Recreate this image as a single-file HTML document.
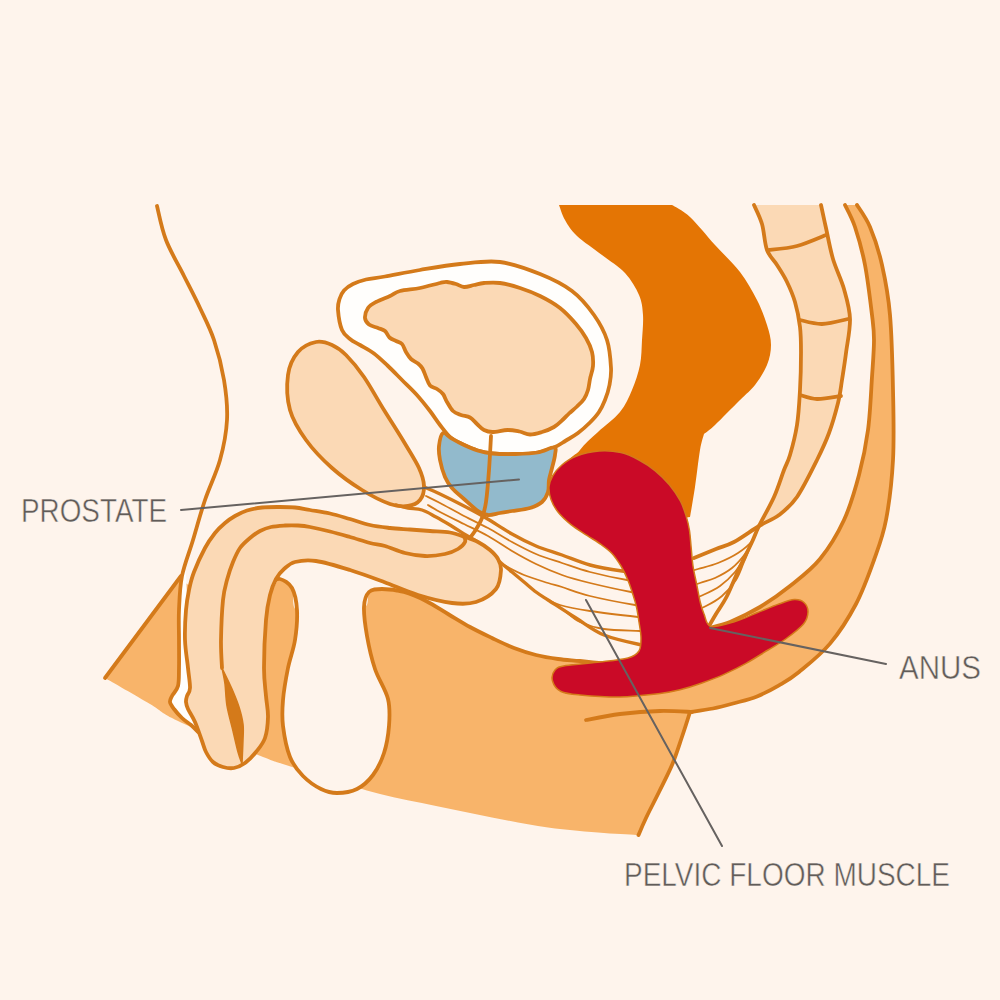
<!DOCTYPE html>
<html><head><meta charset="utf-8"><style>
html,body{margin:0;padding:0;background:#FEF4EC;}
svg{display:block;}
text{font-family:"Liberation Sans",sans-serif;fill:#615C59;stroke:#FEF4EC;stroke-width:0.5px;}
</style></head><body>
<svg width="1000" height="1000" viewBox="0 0 1000 1000">
<rect width="1000" height="1000" fill="#FEF4EC"/>
<path d="M105,678 L181,576 C182.2,577.1 183.8,584.5 192,586 C200.2,587.5 217.3,584.3 230,585 C242.7,585.7 259.7,591 268,590 C276.3,589 276,579.3 280,579 C284,578.7 289.2,582.8 292,588 C294.8,593.2 290.7,608 297,610 C303.3,612 318.8,600.5 330,600 C341.2,599.5 357.5,608.3 364,607 C370.5,605.7 366,595 369,592 C372,589 376.2,589 382,589 C387.8,589 396.7,590 404,592 C411.3,594 418.7,597.3 426,601 C433.3,604.7 440.7,609.7 448,614 C455.3,618.3 462.7,623 470,627 C477.3,631 484.7,634.5 492,638 C499.3,641.5 506.7,645.2 514,648 C521.3,650.8 528.7,653.2 536,655 C543.3,656.8 550.7,658 558,659 C565.3,660 569.7,659.5 580,661 C590.3,662.5 600,670.7 620,668 C640,665.3 680,652.7 700,645 C720,637.3 730,628.3 740,622 C750,615.7 751.7,613 760,607 C768.3,601 780,594 790,586 C800,578 811,570 820,559 C829,548 837.5,534 844,520 C850.5,506 855,490 859,475 C863,460 865.8,446.3 868,430 C870.2,413.7 871,392 872,377 C873,362 874,350.3 874,340 C874,329.7 873.5,327.5 872,315 C870.5,302.5 867.8,279.7 865,265 C862.2,250.3 858.3,237 855,227 C851.7,217 846.1,207.4 845,205 L857,205 C858.4,207.4 865.8,217 870,227 C874.2,237 878.7,250.3 882,265 C885.3,279.7 888.2,294.2 890,315 C891.8,335.8 892.5,365.8 893,390 C893.5,414.2 894.2,438.3 893,460 C891.8,481.7 889.2,503.3 886,520 C882.8,536.7 879,546 874,560 C869,574 863.3,590.1 856,604 C848.7,617.9 839.5,632.3 830,643.6 C820.5,654.9 807.5,665 799,672 C790.5,679 786,681.3 779,685.4 C772,689.5 764.3,693.5 757,696.4 C749.7,699.3 742.3,701 735,703 C727.7,705 720.5,707 713,708.5 C705.5,710 692.6,711.6 690,712 C689.1,714.9 684.6,729.2 681.6,738 C678.6,746.8 675.8,756 672,765 C668.2,774 663.3,783.2 659,792 C654.7,800.8 649.4,810.8 646,818 C642.6,825.2 639.3,833.1 638.5,835 C634.7,834.8 619.1,834.2 604,833 C588.9,831.8 566.7,830.1 548,827.5 C529.3,824.9 510.7,821.1 492,817.5 C473.3,813.9 454.7,809.9 436,806 C417.3,802.1 397.7,798.5 380,794 C362.3,789.5 345.2,783.7 330,779 C314.8,774.3 301,770 289,766 C277,762 276.5,762.5 258,755 C239.5,747.5 196,729.5 178,721 C160,712.5 162.2,711.2 150,704 C137.8,696.8 110,680.9 105,678Z" fill="#F8B46A"/>
<path d="M105,678 L181,576" fill="none" stroke="#D47A1A" stroke-width="3.8" stroke-linejoin="round" stroke-linecap="round"/>
<path d="M709,628 C711.3,627.3 721.5,625.5 730,622 C738.5,618.5 750,613 760,607 C770,601 780,594 790,586 C800,578 811,570 820,559 C829,548 837.5,534 844,520 C850.5,506 855,490 859,475 C863,460 865.8,446.3 868,430 C870.2,413.7 871,392 872,377 C873,362 874,350.3 874,340 C874,329.7 873.5,327.5 872,315 C870.5,302.5 867.8,279.7 865,265 C862.2,250.3 858.3,237 855,227 C851.7,217 846.1,207.4 845,205" fill="none" stroke="#D47A1A" stroke-width="3.8" stroke-linejoin="round" stroke-linecap="round"/>
<path d="M857,205 C858.4,207.4 865.8,217 870,227 C874.2,237 878.7,250.3 882,265 C885.3,279.7 888.2,294.2 890,315 C891.8,335.8 892.5,365.8 893,390 C893.5,414.2 894.2,438.3 893,460 C891.8,481.7 889.2,503.3 886,520 C882.8,536.7 879,546 874,560 C869,574 863.3,590.1 856,604 C848.7,617.9 839.5,632.3 830,643.6 C820.5,654.9 807.5,665 799,672 C790.5,679 786,681.3 779,685.4 C772,689.5 764.3,693.5 757,696.4 C749.7,699.3 742.3,701 735,703 C727.7,705 720.5,707 713,708.5 C705.5,710 692.6,711.6 690,712 C689.1,714.9 684.6,729.2 681.6,738 C678.6,746.8 675.8,756 672,765 C668.2,774 663.3,783.2 659,792 C654.7,800.8 649.4,810.8 646,818 C642.6,825.2 639.3,833.1 638.5,835" fill="none" stroke="#D47A1A" stroke-width="3.8" stroke-linejoin="round" stroke-linecap="round"/>
<path d="M586,720 C589.8,719.3 607.7,715.5 620,714 C632.3,712.5 648,711.3 660,711 C672,710.7 688.4,711.9 692,712" fill="none" stroke="#D47A1A" stroke-width="3.8" stroke-linejoin="round" stroke-linecap="round"/>
<path d="M754,205 C754.9,207.1 759.8,216.5 762,224 C764.2,231.5 764.5,243.2 767,250 C769.5,256.8 773.7,259.7 777,265 C780.3,270.3 784,275.8 787,282 C790,288.2 792.8,294.5 795,302 C797.2,309.5 799,318.7 800,327 C801,335.3 801,341.5 801,352 C801,362.5 800.7,377.8 800,390 C799.3,402.2 798.7,414.2 797,425 C795.3,435.8 792.2,447.5 790,455 C787.8,462.5 786.7,463 784,470 C781.3,477 778.2,487.7 774,497 C769.8,506.3 758.2,523 759,526 C759.8,529 772.7,519.8 779,515 C785.3,510.2 790.7,506.2 797,497 C803.3,487.8 811.7,470.7 817,460 C822.3,449.3 825.5,442.5 829,433 C832.5,423.5 835.8,411.8 838,403 C840.2,394.2 840.7,388.3 842,380 C843.3,371.7 844.7,363.2 846,353 C847.3,342.8 850.3,329.7 850,319 C849.7,308.3 846.8,299 844,289 C841.2,279 836,269.2 833,259 C830,248.8 828,237 826,228 C824,219 821.6,207.6 821,205 L754,205Z" fill="#FBD9B5"/>
<path d="M754,205 C754.9,207.1 759.8,216.5 762,224 C764.2,231.5 764.5,243.2 767,250 C769.5,256.8 773.7,259.7 777,265 C780.3,270.3 784,275.8 787,282 C790,288.2 792.8,294.5 795,302 C797.2,309.5 799,318.7 800,327 C801,335.3 801,341.5 801,352 C801,362.5 800.7,377.8 800,390 C799.3,402.2 798.7,414.2 797,425 C795.3,435.8 792.2,447.5 790,455 C787.8,462.5 786.7,463 784,470 C781.3,477 778.2,487.7 774,497 C769.8,506.3 762.7,518.5 759,526 C755.3,533.5 755.3,534.8 752,542 C748.7,549.2 743.2,560 739,569 C734.8,578 730.8,588.5 727,596 C723.2,603.5 719,609 716,614 C713,619 709.8,624.7 709,626" fill="none" stroke="#D47A1A" stroke-width="3.8" stroke-linejoin="round" stroke-linecap="round"/>
<path d="M821,205 C821.6,207.6 824,219 826,228 C828,237 830,248.8 833,259 C836,269.2 841.2,279 844,289 C846.8,299 849.7,308.3 850,319 C850.3,329.7 847.3,342.8 846,353 C844.7,363.2 843.3,371.7 842,380 C840.7,388.3 840.2,394.2 838,403 C835.8,411.8 832.5,423.5 829,433 C825.5,442.5 822.3,449.3 817,460 C811.7,470.7 803.3,487.8 797,497 C790.7,506.2 785.3,510.2 779,515 C772.7,519.8 766.5,521.5 759,526 C751.5,530.5 741.2,538.2 734,542 C726.8,545.8 722.7,546.3 716,549 C709.3,551.7 696.4,557 694,558" fill="none" stroke="#D47A1A" stroke-width="3.8" stroke-linejoin="round" stroke-linecap="round"/>
<path d="M769,250 C772.1,249.6 787.5,248.5 797,246 C806.5,243.5 822.8,236.2 826,235" fill="none" stroke="#D47A1A" stroke-width="3.8" stroke-linejoin="round" stroke-linecap="round"/>
<path d="M800,320 C802.4,320.4 814,324.2 822,324 C830,323.8 845.1,319.6 848,319" fill="none" stroke="#D47A1A" stroke-width="3.8" stroke-linejoin="round" stroke-linecap="round"/>
<path d="M800,395 C801.9,395.4 810.2,398.8 817,399 C823.8,399.2 838.3,396.3 841,396" fill="none" stroke="#D47A1A" stroke-width="3.8" stroke-linejoin="round" stroke-linecap="round"/>
<path d="M559,205 C559.7,206.7 562,214.8 565,220 C568,225.2 570.8,230.2 577,236 C583.2,241.8 594,248.8 602,255 C610,261.2 618.8,266.3 625,273 C631.2,279.7 636,288 639,295 C642,302 642.5,307.5 643,315 C643.5,322.5 642.5,331.7 642,340 C641.5,348.3 641.7,356.7 640,365 C638.3,373.3 635.3,382.2 632,390 C628.7,397.8 625.7,405 620,412 C614.3,419 604.7,425.7 598,432 C591.3,438.3 584.3,443.7 580,450 C575.7,456.3 562,458.3 572,470 C582,481.7 620.3,512.2 640,520 C659.7,527.8 684.4,517.3 690,517 C690.6,513.7 693.3,498.2 695,487 C696.7,475.8 698.5,458.8 700,450 C701.5,441.2 703.6,435.8 704,434 C705.2,433 709,430.7 715,425 C721,419.3 733.3,406.7 740,400 C746.7,393.3 750.5,390.8 755,385 C759.5,379.2 764.3,371.7 767,365 C769.7,358.3 771,351.7 771,345 C771,338.3 769.3,332.5 767,325 C764.7,317.5 761.5,308.8 757,300 C752.5,291.2 747,281.2 740,272 C733,262.8 723.3,254.2 715,245 C706.7,235.8 697.2,223.7 690,217 C682.8,210.3 674,206.3 672,205 L559,205Z" fill="#E47504"/>
<path d="M338,310 C338.4,315.2 340,325.2 342,330 C344,334.8 347,336.5 350,339 C353,341.5 356,342.6 360,345 C364,347.4 369.3,349.9 374,353.4 C378.7,356.9 383.3,361.6 388,366 C392.7,370.4 397.3,375.3 402,380 C406.7,384.7 411.3,388.8 416,394 C420.7,399.2 426,405.8 430,411 C434,416.2 436.5,420.5 440,425 C443.5,429.5 447.3,434.8 451,438 C454.7,441.2 457.6,441.9 462,444 C466.4,446.1 472.4,448.9 477.5,450.5 C482.6,452.1 486.2,452.9 492.5,453.5 C498.8,454.1 507.5,454.2 515,454 C522.5,453.8 531,453.6 537.5,452.5 C544,451.4 549.2,449.5 554,447.5 C558.8,445.5 562,442.9 566,440.5 C570,438.1 574,436 578,433 C582,430 586.5,426 590,422.5 C593.5,419 596.5,415.8 599,412 C601.5,408.2 603.2,404.5 605,400 C606.8,395.5 608.5,390.3 609.5,385 C610.5,379.7 611.4,375.5 611,368 C610.6,360.5 609.8,348.8 607,340 C604.2,331.2 599.8,323.2 594,315 C588.2,306.8 581,297.8 572,291 C563,284.2 552,278.8 540,274 C528,269.2 513.3,263.7 500,262 C486.7,260.3 473.3,262.7 460,264 C446.7,265.3 432.5,267.9 420,270 C407.5,272.1 394,274.9 385,276.5 C376,278.1 371.3,278.2 366,279.5 C360.7,280.8 356.7,282.2 353,284 C349.3,285.8 346.2,288 344,290.5 C341.8,293 340.5,295.8 339.5,299 C338.5,302.2 337.6,304.8 338,310Z" fill="#FFFEFC" stroke="#D47A1A" stroke-width="3.8" stroke-linejoin="round" stroke-linecap="round"/>
<path d="M365,318 C364.8,315.2 366.2,310.7 368,308 C369.8,305.3 372.3,304 376,302 C379.7,300 386,297.8 390,296 C394,294.2 395,292.3 400,291 C405,289.7 413.3,289.3 420,288 C426.7,286.7 435.5,284 440,283 C444.5,282 444.3,281.8 447,282 C449.7,282.2 453.2,283.2 456,284 C458.8,284.8 461,286.8 464,287 C467,287.2 470.7,285.7 474,285 C477.3,284.3 479.7,283.3 484,283 C488.3,282.7 494,282.2 500,283 C506,283.8 513.3,285.8 520,288 C526.7,290.2 533.3,292.7 540,296 C546.7,299.3 554,303.3 560,308 C566,312.7 571.7,319 576,324 C580.3,329 583.3,333.3 586,338 C588.7,342.7 590.8,347.3 592,352 C593.2,356.7 593.3,361.5 593,366 C592.7,370.5 590.8,375 590,379 C589.2,383 589,386.7 588,390 C587,393.3 585.8,396.2 584,399 C582.2,401.8 579.5,404.1 577,406.5 C574.5,408.9 571.3,411.3 569,413.5 C566.7,415.7 565.5,417.2 563,419.5 C560.5,421.8 557.5,424.9 554,427 C550.5,429.1 546,430.8 542,432 C538,433.2 533.8,434.6 530,434.5 C526.2,434.4 523.2,432.2 519.5,431.5 C515.8,430.8 512,429.9 507.5,430 C503,430.1 496.4,432 492.5,432 C488.6,432 486.6,431.3 484,430 C481.4,428.7 479.3,426.1 477,424 C474.7,421.9 472.7,419 470,417.5 C467.3,416 463.8,416.1 461,415 C458.2,413.9 455.3,413.2 453,411 C450.7,408.8 448.7,404.8 447,402 C445.3,399.2 444.7,396.2 443,394 C441.3,391.8 439.2,390.4 437,389 C434.8,387.6 431.8,387.5 430,385.5 C428.2,383.5 427.2,379.8 426,377 C424.8,374.2 423.8,370.8 422.5,368.5 C421.2,366.2 419.9,365.1 418,363.5 C416.1,361.9 413,360.9 411,359 C409,357.1 407.5,354.5 406,352 C404.5,349.5 403.7,345.8 402,344 C400.3,342.2 398.1,342.1 396,341 C393.9,339.9 391.3,339.2 389.5,337.5 C387.7,335.8 386.9,332.6 385,331 C383.1,329.4 380.7,329.1 378,328 C375.3,326.9 371.2,326.2 369,324.5 C366.8,322.8 365.2,320.8 365,318Z" fill="#FBD9B5" stroke="#D47A1A" stroke-width="3.8" stroke-linejoin="round" stroke-linecap="round"/>
<path d="M316,342 C310.3,343.2 302.7,346.5 298,352 C293.3,357.5 289.3,365.3 288,375 C286.7,384.7 287,399.2 290,410 C293,420.8 299,430.3 306,440 C313,449.7 322.7,459.7 332,468 C341.3,476.3 352.3,484 362,490 C371.7,496 382.3,501.3 390,504 C397.7,506.7 403,506.7 408,506 C413,505.3 417.3,503.3 420,500 C422.7,496.7 424.2,491.3 424,486 C423.8,480.7 422.3,475.3 419,468 C415.7,460.7 409.8,451.7 404,442 C398.2,432.3 390.7,420.8 384,410 C377.3,399.2 370.3,386.2 364,377 C357.7,367.8 351.3,360.3 346,355 C340.7,349.7 337,347.2 332,345 C327,342.8 321.7,340.8 316,342Z" fill="#FBD9B5" stroke="#D47A1A" stroke-width="3.8" stroke-linejoin="round" stroke-linecap="round"/>
<path d="M443,433 C441,434.3 439.5,441.5 439,446 C438.5,450.5 439,454.8 440,460 C441,465.2 443,472.3 445,477 C447,481.7 448.8,484.3 452,488 C455.2,491.7 459.7,495.2 464,499 C468.3,502.8 474,508.3 478,511 C482,513.7 484.3,514.7 488,515 C491.7,515.3 496,513.7 500,513 C504,512.3 507,511.8 512,511 C517,510.2 525,509.5 530,508 C535,506.5 539,504.7 542,502 C545,499.3 546.8,495.7 548,492 C549.2,488.3 548.3,484 549,480 C549.7,476 551,472.2 552,468 C553,463.8 554.7,458.4 555,455 C555.3,451.6 556.9,447.9 554,447.5 C551.1,447.1 544,451.4 537.5,452.5 C531,453.6 522.5,453.8 515,454 C507.5,454.2 498.8,454.1 492.5,453.5 C486.2,452.9 482.6,452.1 477.5,450.5 C472.4,448.9 466.4,446.1 462,444 C457.6,441.9 454.2,439.8 451,438 C447.8,436.2 445,431.7 443,433Z" fill="#92BACC" stroke="#D47A1A" stroke-width="3.8" stroke-linejoin="round" stroke-linecap="round"/>
<path d="M491,436 C490.8,439.8 489.8,459 489,470 C488.2,481 487.2,494 486,502 C484.8,510 483.8,513.2 482,518 C480.2,522.8 477.2,527.5 475,531 C472.8,534.5 469.7,538.1 469,539" fill="none" stroke="#D47A1A" stroke-width="3.8" stroke-linejoin="round" stroke-linecap="round"/>
<path d="M297,610 C296.5,618.3 296.5,630.3 295,640 C293.5,649.7 290,658 288,668 C286,678 283.8,690.3 283,700 C282.2,709.7 281.8,716.5 283,726 C284.2,735.5 286.7,748.7 290,757 C293.3,765.3 297.8,770.7 303,776 C308.2,781.3 315.3,786.2 321,789 C326.7,791.8 331,793 337,793 C343,793 351,792 357,789 C363,786 368.5,781 373,775 C377.5,769 381.3,761.2 384,753 C386.7,744.8 388.3,735 389,726 C389.7,717 390.3,708.5 388,699 C385.7,689.5 378.5,679.5 375,669 C371.5,658.5 368.8,646.3 367,636 C365.2,625.7 363.7,614.3 364,607 C364.3,599.7 366,595 369,592 C372,589 376.2,589 382,589 C387.8,589 404.3,595.2 404,592 C403.7,588.8 392.3,574.5 380,570 C367.7,565.5 343.7,561.7 330,565 C316.3,568.3 303.5,582.5 298,590 C292.5,597.5 297.5,601.7 297,610Z" fill="#FEF4EC"/>
<path d="M424,487 C425.8,487.8 433.3,490.8 440,494 C446.7,497.2 456.3,502 464,506 C471.7,510 478,513.3 486,518 C494,522.7 503.7,529.3 512,534 C520.3,538.7 527.7,542.5 536,546 C544.3,549.5 553,551.8 562,555 C571,558.2 580,562.3 590,565 C600,567.7 610.3,569.3 622,571 C633.7,572.7 655.8,574.6 660,575" fill="none" stroke="#D47A1A" stroke-width="3.4" stroke-linejoin="round" stroke-linecap="round"/>
<path d="M426,496 C427.6,496.8 433.7,499.7 440,503 C446.3,506.3 456,511.8 464,516 C472,520.2 480,523.7 488,528 C496,532.3 504,537.7 512,542 C520,546.3 527.7,550.5 536,554 C544.3,557.5 553,560 562,563 C571,566 579.2,569.2 590,572 C600.8,574.8 615.3,578 627,580 C638.7,582 656.3,583.6 660,584" fill="none" stroke="#D47A1A" stroke-width="1.8" stroke-linejoin="round" stroke-linecap="round"/>
<path d="M428,505 C429.3,505.8 434,508.8 440,512 C446,515.2 456,520 464,524 C472,528 480,531.5 488,536 C496,540.5 504,546.3 512,551 C520,555.7 527.7,560 536,564 C544.3,568 553,571.8 562,575 C571,578.2 578.5,580.2 590,583 C601.5,585.8 619.3,589.8 631,592 C642.7,594.2 656.8,595.6 660,596" fill="none" stroke="#D47A1A" stroke-width="1.8" stroke-linejoin="round" stroke-linecap="round"/>
<path d="M496,560 C496.7,560.4 497.3,561.5 502,564 C506.7,566.5 516.3,571.8 524,575 C531.7,578.2 541.7,581 548,583 C554.3,585 555,584.8 562,587 C569,589.2 577.8,593 590,596 C602.2,599 623.3,603 635,605 C646.7,607 657.2,607.7 660,608" fill="none" stroke="#D47A1A" stroke-width="1.8" stroke-linejoin="round" stroke-linecap="round"/>
<path d="M545,598 C546.7,598.8 552.5,602.8 560,605 C567.5,607.2 577,609 590,611 C603,613 626.3,615.7 638,617 C649.7,618.3 657.6,618.8 660,619" fill="none" stroke="#D47A1A" stroke-width="1.8" stroke-linejoin="round" stroke-linecap="round"/>
<path d="M566,612 C567.6,613.1 573.7,619.2 580,622 C586.3,624.8 594,627.5 604,629 C614,630.5 630.7,630.5 640,631 C649.3,631.5 657.8,631.9 660,632" fill="none" stroke="#D47A1A" stroke-width="1.8" stroke-linejoin="round" stroke-linecap="round"/>
<path d="M396,505 C397.3,505.3 403.7,507.2 408,508 C412.3,508.8 417.3,508.5 422,510 C426.7,511.5 431.3,514.5 436,517 C440.7,519.5 445.3,522.2 450,525 C454.7,527.8 459.7,531.3 464,534 C468.3,536.7 472,538.2 476,541 C480,543.8 484,547.5 488,551 C492,554.5 496,558.5 500,562 C504,565.5 508,568.7 512,572 C516,575.3 520,578.7 524,582 C528,585.3 532,589 536,592 C540,595 541.3,595.7 548,600 C554.7,604.3 566.7,612.2 576,618 C585.3,623.8 593,630.5 604,635 C615,639.5 631.8,642.8 642,645 C652.2,647.2 662.4,647.7 665,648" fill="none" stroke="#D47A1A" stroke-width="3.4" stroke-linejoin="round" stroke-linecap="round"/>
<path d="M759,526 C758.2,527.7 755.5,536.5 752,541 C748.5,545.5 743.7,549.3 738,553 C732.3,556.7 724.7,560.3 718,563 C711.3,565.7 704.3,567.2 698,569 C691.7,570.8 682,573.4 680,574" fill="none" stroke="#D47A1A" stroke-width="1.8" stroke-linejoin="round" stroke-linecap="round"/>
<path d="M759,526 C758.3,527.6 755.3,535.3 753,540 C750.7,544.7 748.5,549.3 745,554 C741.5,558.7 737,564 732,568 C727,572 720.3,575.5 715,578 C709.7,580.5 705.8,581 700,583 C694.2,585 682.2,589.2 680,590" fill="none" stroke="#D47A1A" stroke-width="1.8" stroke-linejoin="round" stroke-linecap="round"/>
<path d="M759,526 C758.2,527.8 754.5,536.7 752,542 C749.5,547.3 746.8,553 744,558 C741.2,563 739,567.3 735,572 C731,576.7 725.3,582.2 720,586 C714.7,589.8 709.7,592 703,595 C696.3,598 682.6,603 680,604" fill="none" stroke="#D47A1A" stroke-width="1.8" stroke-linejoin="round" stroke-linecap="round"/>
<path d="M759,526 C758.2,527.8 754.5,536 752,542 C749.5,548 746.7,555.7 744,562 C741.3,568.3 739.7,574.3 736,580 C732.3,585.7 727,591.7 722,596 C717,600.3 713,602.5 706,606 C699,609.5 682.9,615.8 680,617" fill="none" stroke="#D47A1A" stroke-width="1.8" stroke-linejoin="round" stroke-linecap="round"/>
<path d="M268,596 C268.4,594.7 270,586.8 272,584 C274,581.2 276.7,578.3 280,579 C283.3,579.7 289.2,582.8 292,588 C294.8,593.2 296.5,601.3 297,610 C297.5,618.7 296.5,630.3 295,640 C293.5,649.7 290,658 288,668 C286,678 283.8,690.3 283,700 C282.2,709.7 281.8,716.5 283,726 C284.2,735.5 286.7,748.7 290,757 C293.3,765.3 297.8,770.7 303,776 C308.2,781.3 315.3,786.2 321,789 C326.7,791.8 331,793 337,793 C343,793 351,792 357,789 C363,786 368.5,781 373,775 C377.5,769 381.3,761.2 384,753 C386.7,744.8 388.3,735 389,726 C389.7,717 390.3,708.5 388,699 C385.7,689.5 378.5,679.5 375,669 C371.5,658.5 368.8,646.3 367,636 C365.2,625.7 363.7,614.3 364,607 C364.3,599.7 366,595 369,592 C372,589 376.2,589 382,589 C387.8,589 396.7,590 404,592 C411.3,594 418.7,597.3 426,601 C433.3,604.7 440.7,609.7 448,614 C455.3,618.3 462.7,623 470,627 C477.3,631 484.7,634.5 492,638 C499.3,641.5 506.7,645.2 514,648 C521.3,650.8 528.7,653.2 536,655 C543.3,656.8 550.7,658 558,659 C565.3,660 571.3,660.2 580,661 C588.7,661.8 606.7,663.7 610,664" fill="none" stroke="#D47A1A" stroke-width="3.8" stroke-linejoin="round" stroke-linecap="round"/>
<path d="M186,575 C184.8,560.3 183,573.8 182,580 C181,586.2 180.5,602 180,612 C179.5,622 179.2,630.7 179,640 C178.8,649.3 179.2,660.3 179,668 C178.8,675.7 179.2,681.3 178,686 C176.8,690.7 173.3,693.3 172,696 C170.7,698.7 169.7,699.8 170,702 C170.3,704.2 172,706.3 174,709 C176,711.7 179.2,715.3 182,718 C184.8,720.7 188.7,722.8 191,725 C193.3,727.2 194.5,728.8 196,731 C197.5,733.2 199.7,738.7 200,738 C200.3,737.3 199.2,730.7 198,727 C196.8,723.3 194.7,719 193,716 C191.3,713 189.2,711.3 188,709 C186.8,706.7 185.7,705.5 186,702 C186.3,698.5 189.5,693.7 190,688 C190.5,682.3 189.7,686.8 189,668 C188.3,649.2 187.2,589.7 186,575Z" fill="#FFFEFC"/>
<path d="M202,741 C200.2,736 197.3,727.3 195,722 C192.7,716.7 189.5,712.3 188,709 C186.5,705.7 186.2,704.2 186,702 C185.8,699.8 186.3,698.3 187,696 C187.7,693.7 189.8,692.7 190,688 C190.2,683.3 188.8,676 188,668 C187.2,660 185.3,649.7 185,640 C184.7,630.3 185.3,618.3 186,610 C186.7,601.7 187.7,596.3 189,590 C190.3,583.7 191.3,579 194,572 C196.7,565 201.5,554.5 205,548 C208.5,541.5 211.7,537.2 215,533 C218.3,528.8 221.7,525.8 225,523 C228.3,520.2 231.3,518.1 235,516 C238.7,513.9 242.5,511.9 247,510.5 C251.5,509.1 256.5,508.1 262,507.5 C267.5,506.9 274.5,507 280,507 C285.5,507 290,507 295,507.5 C300,508 304.2,509 310,510 C315.8,511 323.3,512 330,513.5 C336.7,515 343.3,517.1 350,519 C356.7,520.9 363.3,523.5 370,525 C376.7,526.5 383.3,527.2 390,528 C396.7,528.8 403.3,529 410,529.5 C416.7,530 423.3,530.5 430,531 C436.7,531.5 444.2,531.5 450,532.5 C455.8,533.5 460.3,535.4 465,537 C469.7,538.6 473.8,539.8 478,542 C482.2,544.2 486.7,547.2 490,550 C493.3,552.8 496.2,555.7 498,559 C499.8,562.3 501.3,565 501,570 C500.7,575 500.2,583.7 496,589 C491.8,594.3 483.3,599.7 476,602 C468.7,604.3 461.7,604.2 452,603 C442.3,601.8 429.3,598.5 418,595 C406.7,591.5 395.3,586.2 384,582 C372.7,577.8 361.3,573.5 350,570 C338.7,566.5 325.2,562.3 316,561 C306.8,559.7 300.3,560.7 295,562 C289.7,563.3 287.2,566.2 284,569 C280.8,571.8 278.3,574.7 276,579 C273.7,583.3 271.7,588.2 270,595 C268.3,601.8 267,607.8 266,620 C265,632.2 264,655.3 264,668 C264,680.7 265.3,687.8 266,696 C266.7,704.2 268.2,710 268,717 C267.8,724 267,732.2 265,738 C263,743.8 259.3,747.8 256,752 C252.7,756.2 248.7,760.3 245,763 C241.3,765.7 237.7,767.3 234,768 C230.3,768.7 226.5,768 223,767 C219.5,766 215.8,764.5 213,762 C210.2,759.5 207.8,755.5 206,752 C204.2,748.5 203.8,746 202,741Z" fill="#FBD9B5" stroke="#D47A1A" stroke-width="3.8" stroke-linejoin="round" stroke-linecap="round"/>
<path d="M222,668 C221.9,664.9 220.8,651.3 221,640 C221.2,628.7 222,610 223,600 C224,590 225.3,586.3 227,580 C228.7,573.7 230.8,567.3 233,562 C235.2,556.7 237.2,552 240,548 C242.8,544 246.7,540.8 250,538 C253.3,535.2 256.5,532.8 260,531 C263.5,529.2 266.8,527.9 271,527 C275.2,526.1 280.5,525.8 285,525.5 C289.5,525.2 293.8,525.2 298,525.5 C302.2,525.8 304.7,526 310,527 C315.3,528 323.3,529.8 330,531.5 C336.7,533.2 343.3,535.1 350,537 C356.7,538.9 364.2,541.5 370,543 C375.8,544.5 379.2,544.3 385,546 C390.8,547.7 398.3,551.3 405,553 C411.7,554.7 418.3,555.8 425,556 C431.7,556.2 439.5,555.2 445,554 C450.5,552.8 454.7,551 458,549 C461.3,547 464,544.2 465,542 C466,539.8 464.1,536.7 464,536" fill="none" stroke="#D47A1A" stroke-width="3.8" stroke-linejoin="round" stroke-linecap="round"/>
<path d="M222,668 C222.3,669.8 224.2,677.7 225,684 C225.8,690.3 225.7,698.2 227,706 C228.3,713.8 231.2,723.3 233,731 C234.8,738.7 236.5,746.5 238,752 C239.5,757.5 241.6,762.7 242,764 C242.1,761.3 242.8,746.7 243,740 C243.2,733.3 243.7,729.5 243,724 C242.3,718.5 240.8,712.8 239,707 C237.2,701.2 234.8,695.5 232,689 C229.2,682.5 223.1,670.3 222,668Z" fill="#D47A1A" stroke="#D47A1A" stroke-width="1.5" stroke-linejoin="round" stroke-linecap="round"/>
<path d="M157,206 C158,209.8 161.5,228.3 166,240 C170.5,251.7 178.3,264.7 184,276 C189.7,287.3 195,297.3 200,308 C205,318.7 210,328 214,340 C218,352 221.8,366.7 224,380 C226.2,393.3 227.7,406.7 227,420 C226.3,433.3 223.7,446.7 220,460 C216.3,473.3 209.5,486.7 205,500 C200.5,513.3 196.8,527.3 193,540 C189.2,552.7 184.3,564.3 182,576 C179.7,587.7 179.5,599.3 179,610 C178.5,620.7 179,630.3 179,640 C179,649.7 179.2,660.3 179,668 C178.8,675.7 179.2,681.3 178,686 C176.8,690.7 173.3,693.3 172,696 C170.7,698.7 169.7,699.8 170,702 C170.3,704.2 172,706.3 174,709 C176,711.7 179.2,715.3 182,718 C184.8,720.7 188.3,722.7 191,725 C193.7,727.3 197.2,731.2 198,732" fill="none" stroke="#D47A1A" stroke-width="3.8" stroke-linejoin="round" stroke-linecap="round"/>
<path d="M599,451 C606.5,450.4 614.3,451.1 621,452.6 C627.7,454.1 633.3,457 639,460 C644.7,463 649.9,466.4 655,470.6 C660.1,474.8 665.4,479.9 669.6,485 C673.8,490.1 677.7,495.9 680.4,501 C683.1,506.1 684.5,510.8 686,515.6 C687.5,520.4 688.5,524.6 689.4,530 C690.3,535.4 690.6,542 691.2,548 C691.8,554 692.1,560 693,566 C693.9,572 695.4,578 696.6,584 C697.8,590 699,597 700.2,602 C701.4,607 702.2,609.9 704,614 C705.8,618.1 705.8,625.2 711,626.5 C716.2,627.8 727.3,623.9 735,621.6 C742.7,619.3 749.7,615.7 757,612.8 C764.3,609.9 772.8,606.2 779,604 C785.2,601.8 790.2,599.9 794.4,599.6 C798.6,599.4 801.7,600.4 804,602.5 C806.3,604.6 808.1,608.4 808,612 C807.9,615.6 807.2,619.5 803.5,624 C799.8,628.5 791.5,634.7 785.6,639 C779.7,643.3 774.6,645.9 768,650 C761.4,654.1 753.3,659.3 746,663.4 C738.7,667.5 731.3,671.1 724,674.4 C716.7,677.7 709.3,680.4 702,683 C694.7,685.6 687,688 680,689.8 C673,691.5 670,692.3 660,693.5 C650,694.7 633.3,696.8 620,697 C606.7,697.2 589.8,695.9 580,695 C570.2,694.1 565.6,693.8 561,691.5 C556.4,689.2 553.5,684.6 552.5,681 C551.5,677.4 552.8,672.6 555,670 C557.2,667.4 558.5,666.8 566,665.5 C573.5,664.2 589.7,663.2 600,662 C610.3,660.8 621.5,659.8 628,658 C634.5,656.2 636.8,654.3 639,651 C641.2,647.7 641,642.8 641,638 C641,633.2 639.8,627.2 639,622 C638.2,616.8 637.5,611.5 636.5,607 C635.5,602.5 634.4,599.2 633,594.8 C631.6,590.4 630,585.2 628,580.4 C626,575.6 623.7,570.5 621,566 C618.3,561.5 615.3,557 612,553.4 C608.7,549.8 605.2,547.4 601,544.4 C596.8,541.4 592,538.7 587,535.4 C582,532.1 575.8,528.5 571,524.6 C566.2,520.7 561.3,516.2 558,512 C554.7,507.8 552.5,503.6 551,499.4 C549.5,495.2 548.7,490.7 549,486.8 C549.3,482.9 550.5,479.6 552.6,476 C554.7,472.4 557.7,468.5 561.6,465.2 C565.5,461.9 569.8,458.6 576,456.2 C582.2,453.8 591.5,451.6 599,451Z" fill="#CA0A27" stroke="#D47A1A" stroke-width="1.5" stroke-linejoin="round" stroke-linecap="round"/>
<path d="M181,510 L519,479.5" fill="none" stroke="#666260" stroke-width="2" stroke-linejoin="round" stroke-linecap="round"/>
<path d="M586,600 L722,846" fill="none" stroke="#666260" stroke-width="2" stroke-linejoin="round" stroke-linecap="round"/>
<path d="M710,628 L886,664" fill="none" stroke="#666260" stroke-width="2" stroke-linejoin="round" stroke-linecap="round"/>
<text x="21" y="521.8" font-size="33" textLength="146" lengthAdjust="spacingAndGlyphs">PROSTATE</text>
<text x="899" y="678.5" font-size="33" textLength="82" lengthAdjust="spacingAndGlyphs">ANUS</text>
<text x="624" y="885.5" font-size="33" textLength="326" lengthAdjust="spacingAndGlyphs">PELVIC FLOOR MUSCLE</text>
</svg>
</body></html>
